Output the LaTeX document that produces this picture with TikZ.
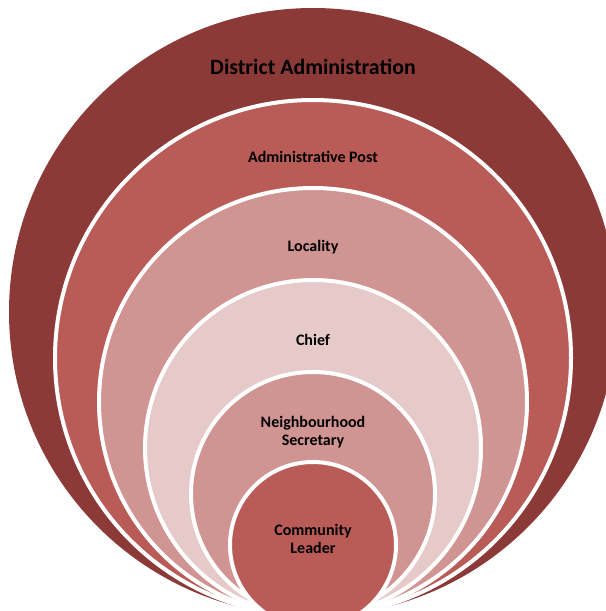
\documentclass[tikz,border=0pt]{standalone}
\usepackage{fontspec}
\setmainfont{Carlito}
\definecolor{ringdark}{HTML}{8C3A38}
\definecolor{ringmid}{HTML}{B95B56}
\definecolor{ringsoft}{HTML}{D09492}
\definecolor{ringpale}{HTML}{E6C9C9}
\begin{document}
\begin{tikzpicture}[x=0.75pt, y=-0.75pt,
    ring/.style = {draw=white, line width=3pt},
    tier/.style = {font=\bfseries\fontsize{12}{13.5}\selectfont, align=center, text=black, inner sep=0pt}]
  \useasboundingbox (0,0) rectangle (606,611);
  \clip (0,0) rectangle (606,611);
  % nested rings, all touching at the bottom
  \fill[ringdark] (313,312) circle[radius=304];
  \filldraw[ring, fill=ringmid] (313,358) circle[radius=258];
  \filldraw[ring, fill=ringsoft] (313,402) circle[radius=214];
  \filldraw[ring, fill=ringpale] (313,448) circle[radius=168];
  \filldraw[ring, fill=ringsoft] (313,494) circle[radius=122];
  \filldraw[ring, fill=ringmid] (313,545) circle[radius=83];
  % texts
  \node[tier, font=\bfseries\fontsize{16.4}{19}\selectfont] (district) at (313,67) {District Administration};
  \node[tier] (post) at (313,157) {Administrative Post};
  \node[tier] (locality) at (313,247) {Locality};
  \node[tier] (chief) at (313,340) {Chief};
  \node[tier] (secretary) at (313,432) {Neighbourhood\\Secretary};
  \node[tier] (leader) at (313,539) {Community\\Leader};
\end{tikzpicture}
\end{document}
